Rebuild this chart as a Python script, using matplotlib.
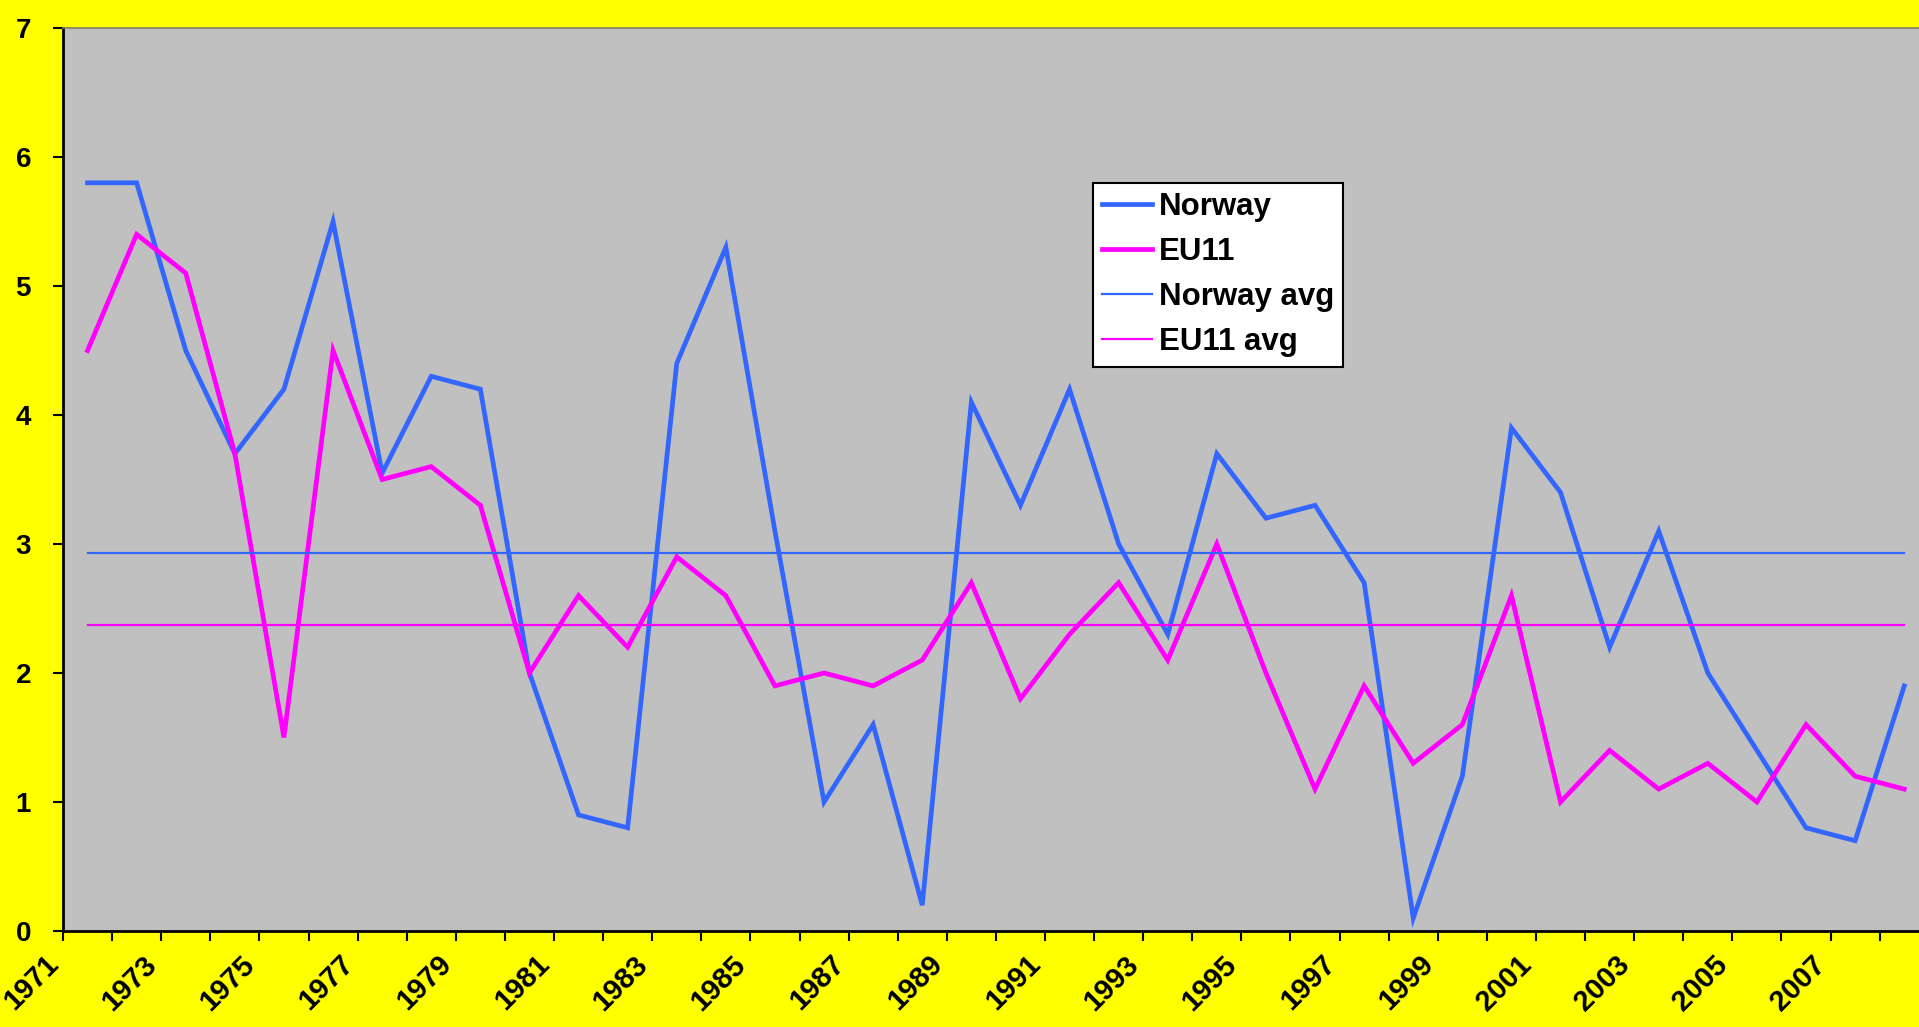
import numpy as np
import matplotlib
matplotlib.use("Agg")
import matplotlib.pyplot as plt
from matplotlib.transforms import ScaledTranslation

years = list(range(1971, 2009))
norway = [5.8, 5.8, 4.5, 3.7, 4.2, 5.5, 3.55, 4.3, 4.2, 2.0,
          0.9, 0.8, 4.4, 5.3, 3.1, 1.0, 1.6, 0.2, 4.1, 3.3,
          4.2, 3.0, 2.3, 3.7, 3.2, 3.3, 2.7, 0.1, 1.2, 3.9,
          3.4, 2.2, 3.1, 2.0, 1.4, 0.8, 0.7, 1.9]
eu11 = [4.5, 5.4, 5.1, 3.7, 1.5, 4.5, 3.5, 3.6, 3.3, 2.0,
        2.6, 2.2, 2.9, 2.6, 1.9, 2.0, 1.9, 2.1, 2.7, 1.8,
        2.3, 2.7, 2.1, 3.0, 2.0, 1.1, 1.9, 1.3, 1.6, 2.6,
        1.0, 1.4, 1.1, 1.3, 1.0, 1.6, 1.2, 1.1]
series_names = ["Norway", "EU11", "Norway avg", "EU11 avg"]
yticks = list(range(0, 8))

norway_avg = [float(np.mean(norway))] * len(years)
eu11_avg = [float(np.mean(eu11))] * len(years)

FONT = "Liberation Sans"
BLUE = "#3366FF"
MAG = "#FF00FF"

fig = plt.figure(figsize=(19.19, 10.27), dpi=100)
fig.patch.set_facecolor("#FFFF00")
W, H = 1919, 1027
left_px, top_px, bottom_px = 63, 28, 931
cat_w = 49.1
n = len(years)
ax = fig.add_axes([left_px / W, 1 - bottom_px / H, n * cat_w / W, (bottom_px - top_px) / H])
ax.set_facecolor("#C0C0C0")

x = np.arange(n)
ax.plot(x, norway, color=BLUE, lw=3.4, label=series_names[0], solid_joinstyle="miter")
ax.plot(x, eu11, color=MAG, lw=3.4, label=series_names[1], solid_joinstyle="miter")
ax.plot(x, norway_avg, color=BLUE, lw=1.6, label=series_names[2])
ax.plot(x, eu11_avg, color=MAG, lw=1.6, label=series_names[3])

ax.set_xlim(-0.5, n - 0.5)
ax.set_ylim(0, 7)

# y axis
ax.set_yticks(yticks)
ax.set_yticklabels([str(v) for v in yticks], fontfamily=FONT, fontweight="bold", fontsize=20)
ax.tick_params(axis="y", direction="out", length=7, width=1.5, pad=16, colors="black")

# x axis: tick marks at category boundaries, labels every other year
bounds = np.arange(n + 1) - 0.5
labels = [str(years[i]) if (i < n and i % 2 == 0) else "" for i in range(n + 1)]
ax.set_xticks(bounds)
ax.set_xticklabels(labels, fontfamily=FONT, fontweight="bold", fontsize=21,
                   rotation=45, ha="right", va="center", rotation_mode="anchor")
ax.tick_params(axis="x", direction="out", length=7, width=1.5, pad=14, colors="black")
shift = ScaledTranslation(-9 / 100, 0, fig.dpi_scale_trans)
for lab in ax.get_xticklabels():
    lab.set_transform(lab.get_transform() + shift)

for s in ["left", "bottom"]:
    ax.spines[s].set_color("black")
    ax.spines[s].set_linewidth(2)
ax.spines["top"].set_color("#808060")
ax.spines["top"].set_linewidth(1.2)
ax.spines["right"].set_visible(False)

leg = ax.legend(loc="upper left", bbox_to_anchor=(1093 / W, 1 - 183 / H),
                bbox_transform=fig.transFigure,
                prop={"family": FONT, "weight": "bold", "size": 22.5},
                frameon=True, fancybox=False, framealpha=1, edgecolor="black",
                handlelength=1.6, handletextpad=0.2, borderpad=0.3,
                labelspacing=0.48, borderaxespad=0)
leg.get_frame().set_linewidth(1.5)

fig.savefig("out.png", dpi=100, facecolor=fig.get_facecolor())
